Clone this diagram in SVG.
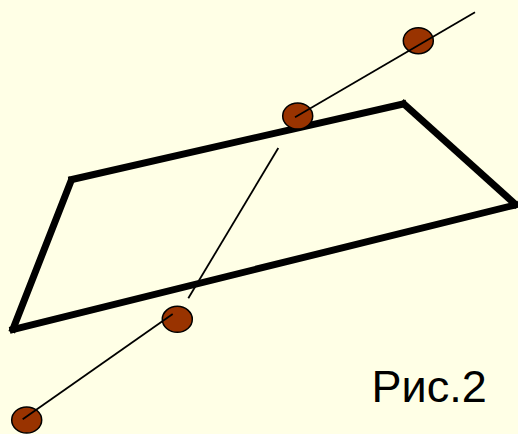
<svg xmlns="http://www.w3.org/2000/svg" width="518" height="434" viewBox="0 0 518 434">
<style>
.plane{fill:none;stroke:#000;stroke-width:7;stroke-linejoin:miter;stroke-linecap:square}
.ln{stroke:#000;stroke-width:1.8;fill:none}
.pt{fill:#993300;stroke:#000;stroke-width:1.5}
.lbl{font-family:"Liberation Sans",Arial,sans-serif;font-size:45px;fill:#000}
</style>
<rect x="0" y="0" width="518" height="434" fill="#FFFFE6"/>
<g id="plane">
<line class="plane" x1="72" y1="179.5" x2="403" y2="104"/>
<line class="plane" x1="404" y1="104" x2="515" y2="204"/>
<line class="plane" x1="515" y1="205" x2="13" y2="329.5"/>
<line class="plane" x1="13" y1="329" x2="71" y2="181"/>
</g>
<g id="p1"><ellipse class="pt" cx="418.3" cy="40.7" rx="15" ry="13"/></g>
<g id="p2"><ellipse class="pt" cx="297.7" cy="116" rx="15" ry="13"/></g>
<g id="p3"><ellipse class="pt" cx="177.3" cy="319.3" rx="15" ry="13"/></g>
<g id="p4"><ellipse class="pt" cx="26.7" cy="420" rx="15" ry="13"/></g>
<g id="connectors">
<line class="ln" x1="475" y1="12.3" x2="295" y2="117.3"/>
<line class="ln" x1="278.3" y1="148" x2="188.3" y2="298.3"/>
<line class="ln" x1="172.7" y1="314" x2="22.7" y2="419.3"/>
</g>
<text class="lbl" x="371.5" y="401.5">Рис.2</text>
</svg>
